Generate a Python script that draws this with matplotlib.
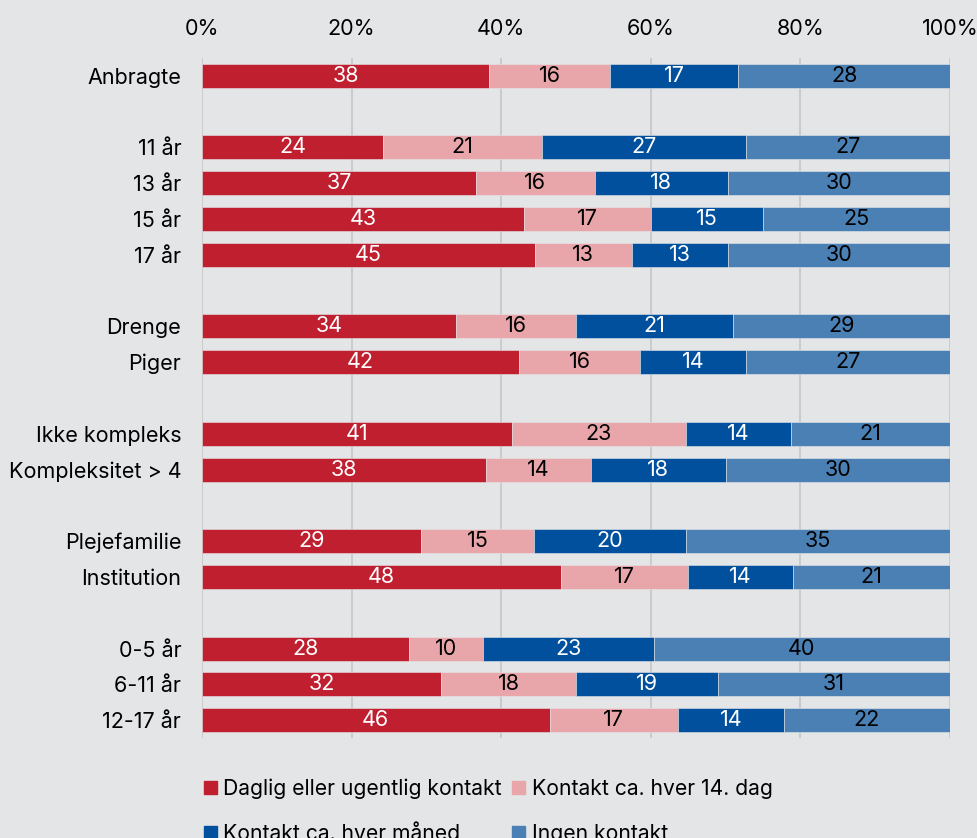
import matplotlib
matplotlib.use("Agg")
import matplotlib.pyplot as plt
import numpy as np

plt.rcParams['font.family'] = ['Inter', 'DejaVu Sans']

categories = ["Anbragte", "", "11 år", "13 år", "15 år", "17 år", "",
              "Drenge", "Piger", "", "Ikke kompleks", "Kompleksitet > 4", "",
              "Plejefamilie", "Institution", "", "0-5 år", "6-11 år", "12-17 år"]
daglig   = [38, None, 24, 37, 43, 45, None, 34, 42, None, 41, 38, None, 29, 48, None, 28, 32, 46]
hver14   = [16, None, 21, 16, 17, 13, None, 16, 16, None, 23, 14, None, 15, 17, None, 10, 18, 17]
maaned   = [17, None, 27, 18, 15, 13, None, 21, 14, None, 14, 18, None, 20, 14, None, 23, 19, 14]
ingen    = [28, None, 27, 30, 25, 30, None, 29, 27, None, 21, 30, None, 35, 21, None, 40, 31, 22]
series_names = ["Daglig eller ugentlig kontakt", "Kontakt ca. hver 14. dag",
                "Kontakt ca. hver måned", "Ingen kontakt"]
colors = ["#c01f30", "#e8a6aa", "#00509e", "#4a80b4"]
text_colors = ["white", "black", "white", "black"]
xticks = [0, 20, 40, 60, 80, 100]

W, H = 978, 838
fig = plt.figure(figsize=(W / 100, H / 100), dpi=100)
bg = "#e4e5e7"
fig.patch.set_facecolor(bg)
ax = fig.add_axes([202 / W, 1 - 738 / H, (950 - 202) / W, (738 - 58) / H])
ax.set_facecolor(bg)

FS = 15.5
series = [daglig, hver14, maaned, ingen]
n = len(categories)
for i in range(n):
    if daglig[i] is None:
        continue
    vals = np.array([s[i] for s in series], dtype=float)
    pct = vals / vals.sum() * 100
    left = 0.0
    for j in range(4):
        ax.barh(i, pct[j], left=left, height=0.67, color=colors[j],
                edgecolor=bg, linewidth=0.4, zorder=3)
        ax.text(left + pct[j] / 2, i, f"{int(vals[j])}", ha="center", va="center",
                color=text_colors[j], fontsize=FS, zorder=4)
        left += pct[j]

handles = [plt.Rectangle((0, 0), 1, 1, color=c) for c in colors]

ax.set_xlim(0, 100)
ax.set_ylim(n - 0.5, -0.5)
ax.set_yticks(range(n))
ax.set_yticklabels(categories, fontsize=FS)
ax.set_xticks(xticks)
ax.set_xticklabels([f"{x}%" for x in xticks], fontsize=FS)
ax.xaxis.tick_top()
ax.tick_params(axis="x", length=0, pad=14)
ax.tick_params(axis="y", length=0, pad=15)
ax.grid(axis="x", color="#c8c9cb", linewidth=1.3, zorder=0)
for sp in ax.spines.values():
    sp.set_visible(False)

order = [0, 2, 1, 3]
fig.legend([handles[k] for k in order], [series_names[k] for k in order],
           loc="upper left", bbox_to_anchor=(193 / W, 1 - 768 / H), ncol=2, frameon=False,
           fontsize=15.2, handlelength=0.62, handleheight=0.62, handletextpad=0.3,
           columnspacing=0.5, labelspacing=1.2, borderpad=0)

fig.savefig("out.png", dpi=100, facecolor=bg)
